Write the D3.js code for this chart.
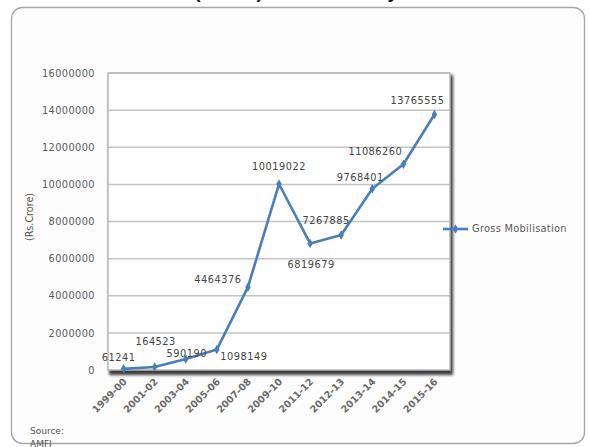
<!DOCTYPE html>
<html>
<head>
<meta charset="utf-8">
<script src="https://cdn.jsdelivr.net/npm/d3@7"></script>
<style>
  html, body { margin: 0; padding: 0; background: #ffffff; }
  svg { display: block; }
</style>
</head>
<body>
<script>
// Gross mobilisation by fiscal year (Rs. Crore)
const years = ["1999-00", "2001-02", "2003-04", "2005-06", "2007-08", "2009-10",
               "2011-12", "2012-13", "2013-14", "2014-15", "2015-16"];
const grossMobilisation = [61241, 164523, 590190, 1098149, 4464376, 10019022,
                           6819679, 7267885, 9768401, 11086260, 13765555];
const yTicks = [0, 2000000, 4000000, 6000000, 8000000, 10000000, 12000000, 14000000, 16000000];
const seriesName = "Gross Mobilisation";

// label nudges (px) relative to each point, like hand-placed spreadsheet labels
const labelNudge = [[-5, -11], [1, -25], [1, -5], [27, 7], [-30, -8], [0, -17],
                    [1, 21], [-15, -15], [-12, -11], [-28, -13], [-17, -14]];

const W = 589, H = 447;
const svg = d3.select("body").append("svg").attr("width", W).attr("height", H);

const defs = svg.append("defs");
defs.append("filter").attr("id", "shadow").attr("x", "-10%").attr("y", "-10%")
  .attr("width", "120%").attr("height", "130%")
  .append("feGaussianBlur").attr("stdDeviation", 1.4);

// heading above the chart frame (runs off the top edge)
svg.append("text")
  .attr("x", 18).attr("y", -2)
  .attr("font-family", "Liberation Sans, Arial, sans-serif")
  .attr("font-size", 19).attr("font-weight", "bold").attr("fill", "#111")
  .text("Gross Mobilisation (Rs. Cr) in MF Industry");

// chart frame
svg.append("rect")
  .attr("x", 11.5).attr("y", 7.5).attr("width", 573).attr("height", 436)
  .attr("rx", 11).attr("fill", "#fdfdfd").attr("stroke", "#a6a6a6").attr("stroke-width", 1.3);

const plot = { left: 108, right: 450, top: 73, bottom: 370 };

const x = d3.scalePoint().domain(years).range([plot.left, plot.right]).padding(0.5);
const y = d3.scaleLinear().domain([0, 16000000]).range([plot.bottom, plot.top]);

const font = "DejaVu Sans, Verdana, sans-serif";

// drop shadow of the plot area
svg.append("rect")
  .attr("x", plot.left + 1).attr("y", plot.top + 2)
  .attr("width", plot.right - plot.left + 2).attr("height", plot.bottom - plot.top + 3)
  .attr("fill", "#3a3a3a").attr("filter", "url(#shadow)");
svg.append("rect")
  .attr("x", plot.left).attr("y", plot.top)
  .attr("width", plot.right - plot.left).attr("height", plot.bottom - plot.top)
  .attr("fill", "#ffffff");

// gridlines
svg.append("g")
  .selectAll("line").data(yTicks.slice(1)).join("line")
  .attr("x1", plot.left).attr("x2", plot.right)
  .attr("y1", d => y(d)).attr("y2", d => y(d))
  .attr("stroke", "#c4c4c4").attr("stroke-width", 1.5);

// plot border
svg.append("rect")
  .attr("x", plot.left).attr("y", plot.top)
  .attr("width", plot.right - plot.left).attr("height", plot.bottom - plot.top)
  .attr("fill", "none").attr("stroke", "#b8b8b8").attr("stroke-width", 1.5);

// y axis
const yAxis = svg.append("g")
  .attr("transform", `translate(${plot.left - 13},0)`)
  .call(d3.axisLeft(y).tickValues(yTicks).tickSize(0).tickPadding(0).tickFormat(d3.format("d")));
yAxis.select(".domain").remove();
yAxis.selectAll("text")
  .attr("font-family", font).attr("font-size", 9.8).attr("letter-spacing", 0.4).attr("fill", "#5a5a5a");

// x axis
const xAxis = svg.append("g")
  .attr("transform", `translate(0,${plot.bottom + 8})`)
  .call(d3.axisBottom(x).tickSize(0).tickPadding(0));
xAxis.select(".domain").remove();
xAxis.selectAll("text")
  .attr("font-family", font).attr("font-size", 9.6).attr("font-weight", "bold").attr("fill", "#6a6a6a")
  .attr("text-anchor", "end").attr("dy", "0.35em")
  .attr("transform", "translate(1,2) rotate(-45)");

// y axis title
svg.append("text")
  .attr("transform", "translate(33,217) rotate(-90)")
  .attr("text-anchor", "middle")
  .attr("font-family", font).attr("font-size", 9.6).attr("fill", "#555")
  .text("(Rs.Crore)");

// series line
const line = d3.line().x((d, i) => x(years[i])).y(d => y(d));
svg.append("path")
  .datum(grossMobilisation)
  .attr("d", line)
  .attr("fill", "none").attr("stroke", "#4a7ebb").attr("stroke-width", 2.6)
  .attr("stroke-linejoin", "round");

const diamond = d3.symbol().type(d3.symbolDiamond).size(26);
svg.append("g").selectAll("path").data(grossMobilisation).join("path")
  .attr("d", diamond)
  .attr("transform", (d, i) => `translate(${x(years[i])},${y(d)})`)
  .attr("fill", "#4a7ebb");

// data labels
svg.append("g").selectAll("text").data(grossMobilisation).join("text")
  .attr("x", (d, i) => x(years[i]) + labelNudge[i][0])
  .attr("y", (d, i) => y(d) + labelNudge[i][1])
  .attr("text-anchor", "middle").attr("dy", "0.35em")
  .attr("font-family", font).attr("font-size", 9.8).attr("letter-spacing", 0.5).attr("fill", "#444")
  .text(d => d);

// legend
const lg = svg.append("g").attr("transform", "translate(443,229)");
lg.append("line").attr("x1", 0).attr("x2", 25).attr("y1", 0).attr("y2", 0)
  .attr("stroke", "#4a7ebb").attr("stroke-width", 2.6);
lg.append("path").attr("d", diamond).attr("transform", "translate(12.5,0)").attr("fill", "#4a7ebb");
lg.append("text").attr("x", 29).attr("y", 0).attr("dy", "0.35em")
  .attr("font-family", font).attr("font-size", 9.8).attr("letter-spacing", 0.3).attr("fill", "#5a5a5a")
  .text(seriesName);

// source note
svg.append("text").attr("x", 30).attr("y", 434)
  .attr("font-family", font).attr("font-size", 9).attr("fill", "#555").text("Source:");
svg.append("text").attr("x", 30).attr("y", 447)
  .attr("font-family", font).attr("font-size", 9).attr("fill", "#555").text("AMFI");
</script>
</body>
</html>
